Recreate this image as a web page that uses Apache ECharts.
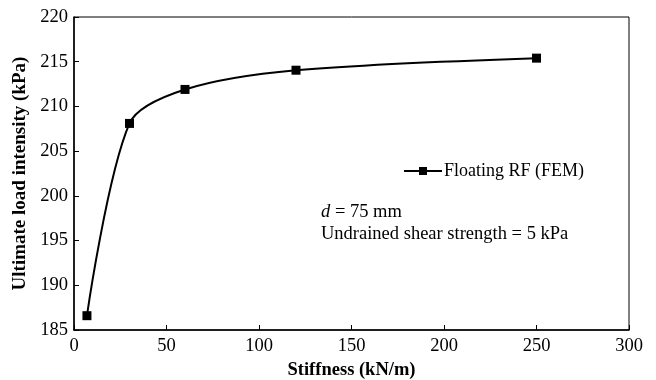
<!DOCTYPE html>
<html>
<head>
<meta charset="utf-8">
<script src="https://cdn.jsdelivr.net/npm/echarts@6/dist/echarts.min.js"></script>
<style>
  html, body { margin: 0; padding: 0; background: #fff; }
  #chart { width: 656px; height: 380px; }
</style>
</head>
<body>
<div id="chart"></div>
<script>
// stiffness (kN/m) vs ultimate load intensity (kPa)
var stiffness = [7, 30, 60, 120, 250];
var loadIntensity = [186.6, 208.1, 211.9, 214.05, 215.4];
var seriesName = 'Floating RF (FEM)';

var chartDom = document.getElementById('chart');
var myChart = echarts.init(chartDom);
var font = 'Liberation Serif';
var fs = 18.5;

var points = stiffness.map(function (s, i) { return [s, loadIntensity[i]]; });

var option = {
  animation: false,
  backgroundColor: '#fff',
  textStyle: { fontFamily: font, color: '#000' },
  grid: {
    left: 74, right: 27, top: 17, bottom: 50,
    containLabel: false,
    outerBoundsMode: 'none',
    show: true, borderColor: '#000', borderWidth: 1
  },
  legend: {
    left: 398, top: 157,
    itemWidth: 38, itemHeight: 10,
    itemGap: 4,
    textStyle: { fontFamily: font, fontSize: 18, color: '#000', padding: [0, 0, 0, -3] },
    data: [seriesName]
  },
  xAxis: {
    type: 'value',
    min: 0, max: 300, interval: 50,
    name: 'Stiffness (kN/m)',
    nameLocation: 'middle',
    nameGap: 30,
    nameTextStyle: { fontFamily: font, fontSize: 18.5, fontWeight: 'bold', color: '#000' },
    axisLine: { lineStyle: { color: '#000', width: 1.5 } },
    axisTick: { inside: true, length: 5, lineStyle: { color: '#000' } },
    axisLabel: { fontFamily: font, fontSize: fs, color: '#000', margin: 7 },
    splitLine: { show: false }
  },
  yAxis: {
    type: 'value',
    min: 185, max: 220, interval: 5,
    name: 'Ultimate load intensity (kPa)',
    nameLocation: 'middle',
    nameGap: 40,
    nameTextStyle: { fontFamily: font, fontSize: 19, fontWeight: 'bold', color: '#000' },
    axisLine: { lineStyle: { color: '#000', width: 1.5 } },
    axisTick: { inside: true, length: 5, lineStyle: { color: '#000' } },
    axisLabel: { fontFamily: font, fontSize: fs, color: '#000', margin: 6 },
    splitLine: { show: false }
  },
  graphic: [
    {
      type: 'text',
      left: 321, top: 201,
      style: {
        text: '{i|d} = 75 mm\nUndrained shear strength = 5 kPa',
        font: fs + 'px "Liberation Serif"',
        fill: '#000',
        lineHeight: 22,
        rich: {
          i: { fontStyle: 'italic', fontFamily: font, fontSize: fs, fill: '#000', lineHeight: 22 }
        }
      }
    }
  ],
  series: [
    {
      name: seriesName,
      type: 'line',
      data: points,
      smooth: 0.3,
      symbol: 'rect',
      symbolSize: 9,
      itemStyle: { color: '#000' },
      lineStyle: { color: '#000', width: 2 }
    }
  ]
};

myChart.setOption(option);
</script>
</body>
</html>
